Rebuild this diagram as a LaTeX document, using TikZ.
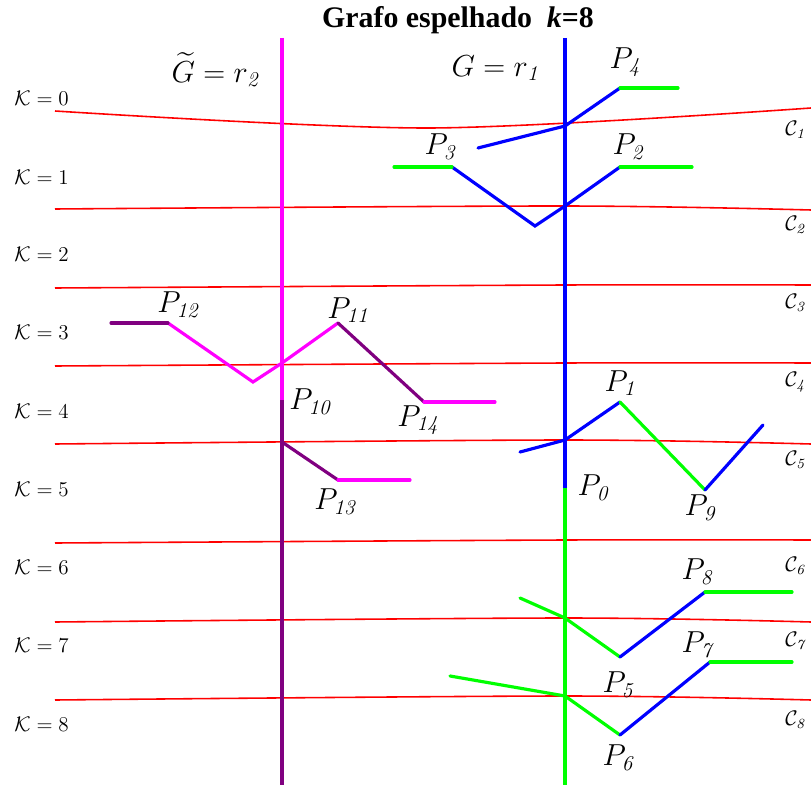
\documentclass[tikz,border=0pt]{standalone}
\usepackage{fontspec}
\usepackage{amsmath}
\usetikzlibrary{positioning}
\newfontfamily\titlefont{Liberation Serif}
\definecolor{LevelRed}{HTML}{FF0000}
\definecolor{TreeBlue}{HTML}{0000FF}
\definecolor{TreeGreen}{HTML}{00FF00}
\definecolor{TreeMagenta}{HTML}{FF00FF}
\definecolor{TreePurple}{HTML}{800080}

\begin{document}
\begin{tikzpicture}[
  x=0.02cm, y=-0.02cm,
  level/.style={draw=LevelRed, line width=0.9pt},
  branch/.style={line width=1.8pt, line cap=round},
  axis/.style={line width=1.8pt},
  plabel/.style={font=\LARGE, inner sep=1pt},
  klabel/.style={font=\large, anchor=west, inner sep=0pt},
  clabel/.style={font=\large, anchor=west, inner sep=0pt}
]
\useasboundingbox (0,0) rectangle (811,787);

% title
\node[font=\fontsize{17}{20}\selectfont\titlefont\bfseries] (title) at (458,20) {Grafo espelhado\ \ \textit{k}=8};

% level curves
\draw[level] plot[smooth] coordinates {(55,111) (430,128) (811,108)};
\foreach \yl/\ym/\yr in {209/206/210, 288/285/285, 366/363/363, 444/440/444,
                         543/540/540, 622/618/622, 700/696/700}
  \draw[level] plot[smooth] coordinates {(55,\yl) (565,\ym) (811,\yr)};

\foreach \k/\y in {0/98, 1/177, 2/254, 3/332, 4/411, 5/489, 6/567, 7/645, 8/724}
  \node[klabel] (k\k) at (14,\y) {$\mathcal{K}=\k$};
\foreach \k/\y in {1/130, 2/225, 3/303, 4/382, 5/460, 6/566, 7/641, 8/720}
  \node[clabel] (c\k) at (785,\y) {$\mathcal{C}_{\mathit{\k}}$};

% axes
\coordinate (r2top) at (282,38);
\coordinate (r2mid) at (282,400);
\coordinate (r2bot) at (282,785);
\coordinate (r1top) at (565,38);
\coordinate (r1mid) at (565,488);
\coordinate (r1bot) at (565,785);
\draw[axis, TreeMagenta] (r2top) -- (r2mid);
\draw[axis, TreePurple] (r2mid) -- (r2bot);
\draw[axis, TreeBlue] (r1top) -- (r1mid);
\draw[axis, TreeGreen] (r1mid) -- (r1bot);

\node[font=\LARGE] (gtilde) at (215,70) {$\widetilde{G}=r_{\mathit{2}}$};
\node[font=\LARGE] (gplain) at (495,68) {$G=r_{\mathit{1}}$};

% tree of G
\coordinate (b1) at (565,126);
\coordinate (b2) at (565,206);
\coordinate (b5) at (565,440);
\coordinate (b7) at (565,618);
\coordinate (b8) at (565,696);
\coordinate (v4) at (620,88);
\coordinate (v2) at (620,167);
\coordinate (v3) at (452,167);
\coordinate (v1) at (620,402);
\coordinate (v9) at (705,490);
\coordinate (v5) at (620,657);
\coordinate (v8) at (705,592);
\coordinate (v6) at (620,735);
\coordinate (v7) at (710,662);
\coordinate (dip2) at (535,226);
\coordinate (e4) at (678,88);
\coordinate (e2) at (692,167);
\coordinate (e3) at (394,167);
\coordinate (e1) at (478,148);
\coordinate (e5) at (520,452);
\coordinate (e9) at (763,425);
\coordinate (e7a) at (520,598);
\coordinate (e8) at (792,592);
\coordinate (e8a) at (450,676);
\coordinate (e7) at (792,662);

\draw[branch, TreeBlue] (e1) -- (b1) -- (v4);
\draw[branch, TreeGreen] (v4) -- (e4);
\draw[branch, TreeBlue] (v3) -- (dip2) -- (b2) -- (v2);
\draw[branch, TreeGreen] (v2) -- (e2);
\draw[branch, TreeGreen] (e3) -- (v3);
\draw[branch, TreeBlue] (e5) -- (b5) -- (v1);
\draw[branch, TreeGreen] (v1) -- (v9);
\draw[branch, TreeBlue] (v9) -- (e9);
\draw[branch, TreeGreen] (e7a) -- (b7) -- (v5);
\draw[branch, TreeBlue] (v5) -- (v8);
\draw[branch, TreeGreen] (v8) -- (e8);
\draw[branch, TreeGreen] (e8a) -- (b8) -- (v6);
\draw[branch, TreeBlue] (v6) -- (v7);
\draw[branch, TreeGreen] (v7) -- (e7);

% mirrored tree
\coordinate (m4) at (282,363);
\coordinate (m5) at (282,442);
\coordinate (v11) at (338,323);
\coordinate (v14) at (424,402);
\coordinate (v12) at (168,323);
\coordinate (v13) at (338,480);
\coordinate (dip4) at (253,382);
\coordinate (e14) at (495,402);
\coordinate (e12) at (111,323);
\coordinate (e13) at (410,480);

\draw[branch, TreeMagenta] (v12) -- (dip4) -- (m4) -- (v11);
\draw[branch, TreePurple] (e12) -- (v12);
\draw[branch, TreePurple] (v11) -- (v14);
\draw[branch, TreeMagenta] (v14) -- (e14);
\draw[branch, TreePurple] (m5) -- (v13);
\draw[branch, TreeMagenta] (v13) -- (e13);

% vertex labels
\node[plabel] (p0) at (593,488) {$P_{\mathit{0}}$};
\node[plabel] (p1) at (620,383) {$P_{\mathit{1}}$};
\node[plabel] (p2) at (628,147) {$P_{\mathit{2}}$};
\node[plabel] (p3) at (440,147) {$P_{\mathit{3}}$};
\node[plabel] (p4) at (625,62) {$P_{\mathit{4}}$};
\node[plabel] (p5) at (618,685) {$P_{\mathit{5}}$};
\node[plabel] (p6) at (618,758) {$P_{\mathit{6}}$};
\node[plabel] (p7) at (697,645) {$P_{\mathit{7}}$};
\node[plabel] (p8) at (697,572) {$P_{\mathit{8}}$};
\node[plabel] (p9) at (700,508) {$P_{\mathit{9}}$};
\node[plabel] (p10) at (310,402) {$P_{\mathit{10}}$};
\node[plabel] (p11) at (348,310) {$P_{\mathit{11}}$};
\node[plabel] (p12) at (178,305) {$P_{\mathit{12}}$};
\node[plabel] (p13) at (335,502) {$P_{\mathit{13}}$};
\node[plabel] (p14) at (418,420) {$P_{\mathit{14}}$};
\end{tikzpicture}
\end{document}
